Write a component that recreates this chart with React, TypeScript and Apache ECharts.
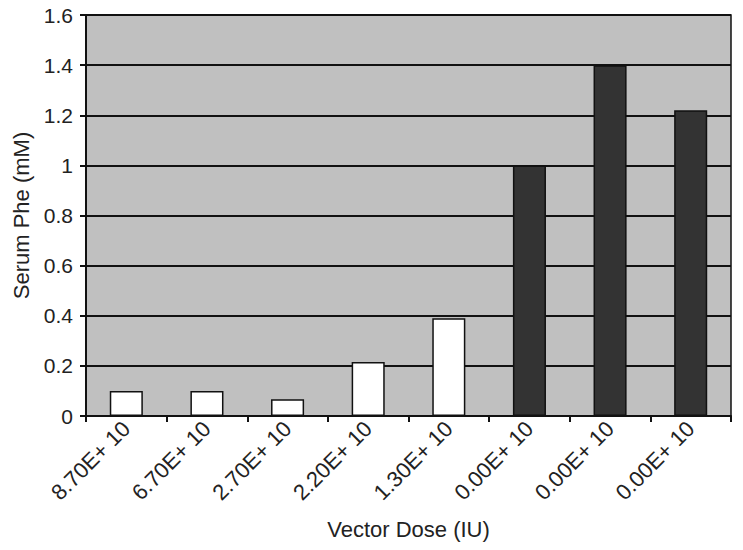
import React, { useEffect, useRef } from "react";
import * as echarts from "echarts";

const categories = [
  "8.70E+ 10",
  "6.70E+ 10",
  "2.70E+ 10",
  "2.20E+ 10",
  "1.30E+ 10",
  "0.00E+ 10",
  "0.00E+ 10",
  "0.00E+ 10",
];
const serumPhe = [0.1, 0.1, 0.067, 0.215, 0.39, 1.0, 1.4, 1.22];
const treated = [true, true, true, true, true, false, false, false];

export default function App() {
  const ref = useRef<HTMLDivElement>(null);
  useEffect(() => {
    if (!ref.current) return;
    const chart = echarts.init(ref.current, null, { renderer: "svg" });
    const font = "Liberation Sans, Arial, sans-serif";
    chart.setOption({
      animation: false,
      grid: {
        left: 86,
        right: 12,
        top: 15,
        bottom: 134,
        show: true,
        backgroundColor: "#c0c0c0",
        borderColor: "#111",
        borderWidth: 1.5,
      },
      xAxis: {
        type: "category",
        data: categories,
        name: "Vector Dose (IU)",
        nameLocation: "middle",
        nameGap: 102,
        nameTextStyle: { fontSize: 22, color: "#222", fontFamily: font },
        axisLine: { lineStyle: { color: "#111", width: 2 } },
        axisTick: { show: true, length: 6, lineStyle: { color: "#111", width: 2 } },
        axisLabel: {
          rotate: 45,
          fontSize: 22,
          color: "#222",
          fontFamily: font,
          margin: 9,
          interval: 0,
        },
      },
      yAxis: {
        type: "value",
        min: 0,
        max: 1.6,
        interval: 0.2,
        name: "Serum Phe (mM)",
        nameLocation: "middle",
        nameGap: 54,
        nameTextStyle: { fontSize: 22, color: "#222", fontFamily: font },
        axisLine: { show: true, lineStyle: { color: "#111", width: 2 } },
        axisTick: { show: true, length: 6, lineStyle: { color: "#111", width: 2 } },
        axisLabel: {
          fontSize: 21,
          color: "#222",
          fontFamily: font,
          margin: 13,
          formatter: (v: number) => String(Math.round(v * 10) / 10),
        },
        splitLine: { show: true, lineStyle: { color: "#111", width: 2 } },
      },
      series: [
        {
          type: "bar",
          barWidth: "41%",
          data: serumPhe.map((v, i) => ({
            value: v,
            itemStyle: {
              color: treated[i] ? "#ffffff" : "#333333",
              borderColor: "#111",
              borderWidth: 1.5,
            },
          })),
        },
      ],
    });
    return () => chart.dispose();
  }, []);
  return <div ref={ref} style={{ width: 743, height: 550, margin: -8 }} />;
}
